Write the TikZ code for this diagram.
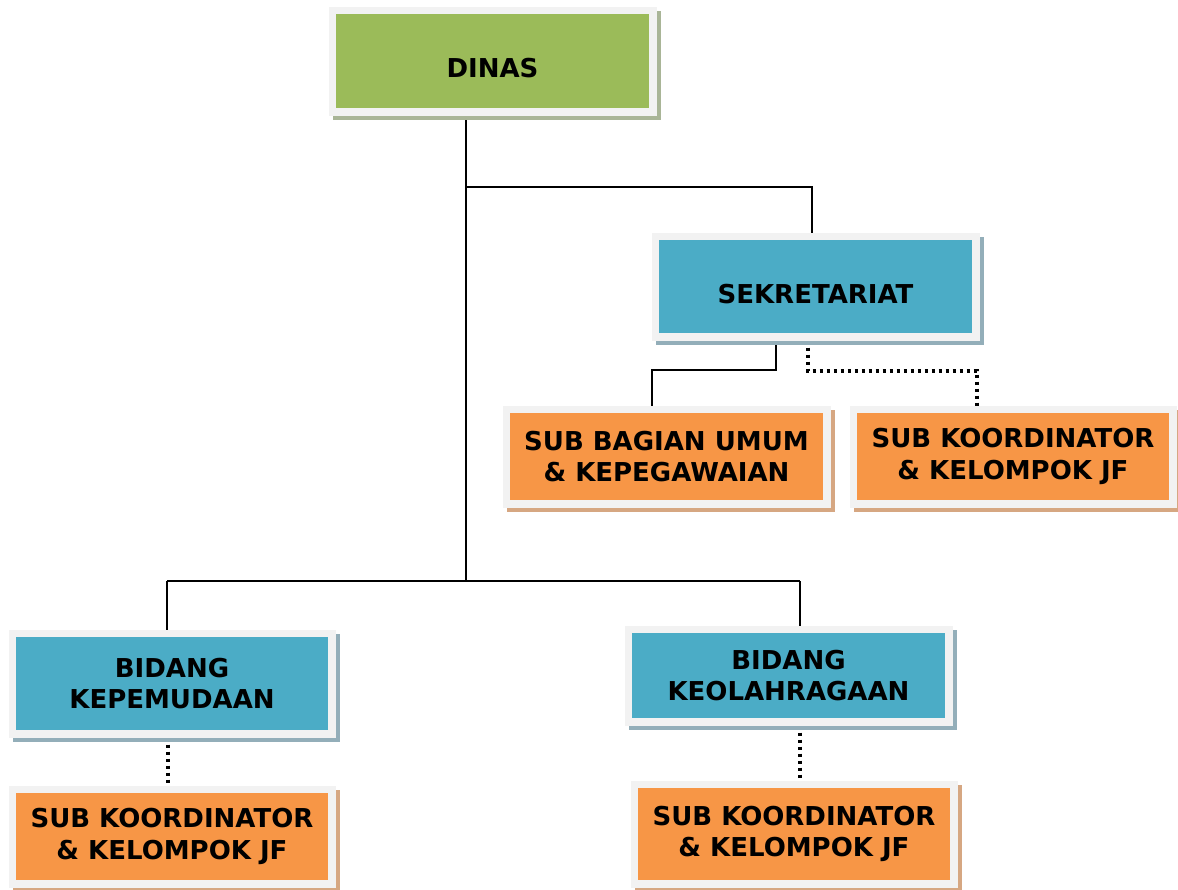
\documentclass[tikz,border=0pt]{standalone}
\usepackage{fontspec}
\setmainfont{DejaVu Sans}
\usetikzlibrary{backgrounds}
\definecolor{frame}{HTML}{F2F2F2}
\definecolor{cgreen}{HTML}{9BBB59}
\definecolor{cblue}{HTML}{4BACC6}
\definecolor{corange}{HTML}{F79646}
\definecolor{sgreen}{HTML}{A9B597}
\definecolor{sblue}{HTML}{93AEB9}
\definecolor{sorange}{HTML}{D6A782}
\tikzset{
  orgbox/.style 2 args={draw=frame, line width=7.5pt, fill=#1, inner sep=0pt,
    align=center, font=\fontsize{26}{31.5}\selectfont\bfseries,
    preaction={draw=#2, fill=#2, transform canvas={xshift=4pt,yshift=-4pt}}},
  gbox/.style={orgbox={cgreen}{sgreen}},
  bbox/.style={orgbox={cblue}{sblue}},
  obox/.style={orgbox={corange}{sorange}},
  solidline/.style={line width=2pt, draw=black},
  dotline/.style={line width=4pt, draw=black, dash pattern=on 3.5pt off 3.5pt},
}
\newcommand{\lowtext}[1]{\raisebox{-7pt}[\height][0pt]{#1}}
\begin{document}
\begin{tikzpicture}[x=1pt,y=-1pt]
\useasboundingbox (0,0) rectangle (1178,889);
% boxes
\node[gbox, minimum width=320.5pt, minimum height=101.5pt] (dinas) at (492.5,61) {\lowtext{DINAS}};
\node[bbox, minimum width=320.5pt, minimum height=100.5pt] (sek) at (815.5,286.5) {\lowtext{SEKRETARIAT}};
\node[obox, minimum width=320.5pt, minimum height=94.5pt] (sbu) at (666.5,456.5) {SUB BAGIAN UMUM\\\& KEPEGAWAIAN};
\node[obox, minimum width=319.5pt, minimum height=94.5pt] (skr) at (1013,456.5) {SUB KOORDINATOR\\\& KELOMPOK JF};
\node[bbox, minimum width=319.5pt, minimum height=100.5pt] (kep) at (172,683.5) {BIDANG\\KEPEMUDAAN};
\node[bbox, minimum width=320.5pt, minimum height=92.5pt] (kel) at (788.5,675.5) {BIDANG\\KEOLAHRAGAAN};
\node[obox, minimum width=319.5pt, minimum height=94.5pt] (skl) at (172,836.5) {SUB KOORDINATOR\\\& KELOMPOK JF};
\node[obox, minimum width=319.5pt, minimum height=99.5pt] (skb) at (794,834) {SUB KOORDINATOR\\\& KELOMPOK JF};
% junction points
\coordinate (j1) at (466,187);
\coordinate (j2) at (466,581);
\coordinate (j3) at (812,187);
\coordinate (b1) at (167,581);
\coordinate (b2) at (800,581);
\coordinate (s1) at (776,370);
\coordinate (s2) at (652,370);
\coordinate (d1) at (808,371);
\coordinate (d2) at (977,371);
\coordinate (v1) at (168,700);
\coordinate (v2) at (800,700);
\begin{scope}[on background layer]
\draw[solidline] (j1 |- dinas.south) -- (j2);
\draw[solidline] (j1) -- (j3) -- (j3 |- sek.north);
\draw[solidline] (b1) -- (b2);
\draw[solidline] (b1) -- (b1 |- kep.north);
\draw[solidline] (b2) -- (b2 |- kel.north);
\draw[solidline] (s1 |- sek.south) -- (s1) -- (s2) -- (s2 |- sbu.north);
\draw[dotline] (d1 |- sek.south) -- (d1) -- (d2) -- (d2 |- skr.north);
\draw[dotline] (v1 |- kep.south) -- (v1 |- skl.north);
\draw[dotline] (v2 |- kel.south) -- (v2 |- skb.north);
\end{scope}
\end{tikzpicture}
\end{document}
